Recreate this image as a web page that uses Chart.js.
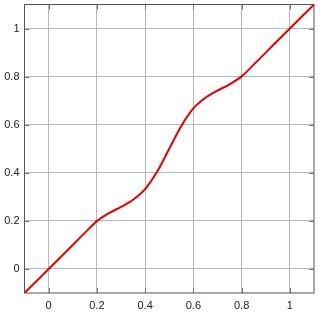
<!DOCTYPE html>
<html>
<head>
<meta charset="utf-8">
<script src="https://cdn.jsdelivr.net/npm/chart.js@4.4.1/dist/chart.umd.min.js"></script>
<style>
  body { margin: 0; background: #fff; }
  #wrap { width: 320px; height: 315px; }
</style>
</head>
<body>
<div id="wrap"><canvas id="c"></canvas></div>
<script>
// DATA
const xVals = [-0.1, -0.05, 0, 0.05, 0.1, 0.15, 0.2, 0.25, 0.3, 0.35, 0.4, 0.45, 0.5, 0.55, 0.6, 0.65, 0.7, 0.75, 0.8, 0.85, 0.9, 0.95, 1, 1.05, 1.1];
const yVals = [-0.1, -0.05, 0, 0.05, 0.1, 0.15, 0.199, 0.232, 0.258, 0.288, 0.332, 0.405, 0.5, 0.595, 0.668, 0.712, 0.742, 0.768, 0.801, 0.85, 0.9, 0.95, 1, 1.05, 1.1];
const xTicks = [0, 0.2, 0.4, 0.6, 0.8, 1];
const yTicks = [0, 0.2, 0.4, 0.6, 0.8, 1];

// FRAME + INWARD TICKS
const frame = {
  id: "frame",
  beforeDatasetsDraw(chart) {
    const { ctx, chartArea: a, scales: { x, y } } = chart;
    ctx.save();
    ctx.lineWidth = 1;
    ctx.strokeStyle = "#777";
    ctx.beginPath();
    xTicks.forEach(v => {
      const p = Math.round(x.getPixelForValue(v)) + 0.5;
      ctx.moveTo(p, a.top); ctx.lineTo(p, a.top + 5);
      ctx.moveTo(p, a.bottom); ctx.lineTo(p, a.bottom - 5);
    });
    yTicks.forEach(v => {
      const p = Math.round(y.getPixelForValue(v)) + 0.5;
      ctx.moveTo(a.left, p); ctx.lineTo(a.left + 5, p);
      ctx.moveTo(a.right, p); ctx.lineTo(a.right - 5, p);
    });
    ctx.stroke();
    ctx.strokeStyle = "#555";
    ctx.strokeRect(a.left, a.top, a.right - a.left, a.bottom - a.top);
    ctx.restore();
  }
};

const font = { family: "'Liberation Sans', Arial, sans-serif", size: 11 };

new Chart(document.getElementById("c"), {
  type: "line",
  data: {
    datasets: [{
      data: xVals.map((v, i) => ({ x: v, y: yVals[i] })),
      borderColor: "#e60000",
      borderWidth: 2,
      pointRadius: 0,
      tension: 0.3
    }]
  },
  options: {
    responsive: true,
    maintainAspectRatio: false,
    animation: false,
    layout: { padding: { top: 4.5, right: 6, left: 0, bottom: 0 } },
    plugins: { legend: { display: false }, tooltip: { enabled: false } },
    scales: {
      x: {
        type: "linear", min: -0.1, max: 1.1,
        afterBuildTicks: s => { s.ticks = xTicks.map(v => ({ value: v })); },
        afterFit: s => { s.height = 22; s.paddingLeft = 0; s.paddingRight = 0; },
        grid: { color: "#b8b8b8", drawTicks: false },
        border: { display: false },
        ticks: { font, color: "#222", padding: 6, maxRotation: 0, callback: v => String(v) }
      },
      y: {
        type: "linear", min: -0.1, max: 1.1,
        afterBuildTicks: s => { s.ticks = yTicks.map(v => ({ value: v })); },
        afterFit: s => { s.width = 24.5; s.paddingTop = 0; s.paddingBottom = 0; },
        grid: { color: "#b8b8b8", drawTicks: false },
        border: { display: false },
        ticks: { font, color: "#222", padding: 5, callback: v => String(v) }
      }
    }
  },
  plugins: [frame]
});
</script>
</body>
</html>
